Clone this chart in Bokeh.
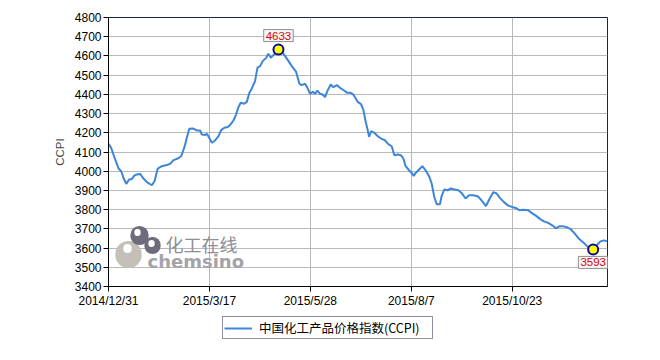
import numpy as np
from bokeh.plotting import figure
from bokeh.layouts import column
from bokeh.models import Range1d, FixedTicker, Legend, LegendItem, Label
from bokeh.embed import file_html
from bokeh.resources import INLINE

# trading-day index (x) and CCPI value (y)
day_index = [0.0, 1.3, 3.0, 5.0, 6.3, 7.4, 8.8, 10.2, 11.6, 12.9, 14.0, 15.7, 17.0, 19.0, 21.5, 22.8,
             24.4, 26.4, 28.9, 30.5, 32.2, 34.3, 36.0, 37.6, 38.8, 40.0, 42.1, 43.7, 45.4, 46.2, 47.9,
             48.7, 49.9, 51.2, 52.8, 54.5, 55.8, 57.4, 59.1, 60.2, 61.9, 63.2, 64.4, 65.5, 67.2, 68.5,
             69.8, 71.0, 72.6, 73.8, 75.1, 76.4, 78.1, 79.2, 80.4, 81.7, 83.4, 84.2, 85.8, 87.5, 89.2,
             90.8, 92.9, 94.6, 95.7, 97.4, 98.5, 99.9, 101.2, 102.3, 103.5, 104.8, 106.1, 107.3, 108.4,
             110.1, 111.4, 113.1, 114.7, 116.7, 118.3, 120.0, 121.3, 123.4, 125.1, 126.3, 127.4, 128.4,
             129.1, 130.1, 131.7, 133.4, 135.0, 137.0, 138.6, 140.3, 141.6, 143.3, 144.9, 146.1, 147.2,
             148.9, 150.2, 151.2, 152.2, 153.5, 155.5, 157.1, 158.8, 160.1, 161.4, 162.6, 164.2, 165.0,
             166.4, 168.0, 169.7, 171.3, 173.3, 174.9, 176.9, 178.6, 180.7, 182.9, 184.5, 187.0, 188.6,
             190.6, 192.3, 193.9, 195.9, 198.0, 200.0, 201.8, 203.5, 205.5, 207.9, 209.6, 211.7, 213.7,
             215.7, 217.8, 220.0, 221.6, 223.3, 225.3, 227.2, 228.9, 231.0, 233.2, 235.5, 237.6, 240.1,
             242.1, 243.7, 245.4, 247.2]
ccpi = [4143, 4122, 4070, 4014, 4000, 3966, 3934, 3957, 3960, 3978, 3983, 3986, 3966, 3943, 3927, 3948,
        4014, 4026, 4032, 4038, 4058, 4066, 4078, 4125, 4174, 4221, 4222, 4212, 4212, 4191, 4188,
        4195, 4174, 4148, 4160, 4183, 4214, 4226, 4230, 4240, 4264, 4295, 4334, 4356, 4351, 4361,
        4408, 4431, 4469, 4539, 4547, 4573, 4590, 4611, 4590, 4604, 4622, 4633, 4622, 4599, 4573,
        4547, 4518, 4455, 4448, 4455, 4434, 4403, 4413, 4403, 4420, 4403, 4399, 4386, 4417,
        4451, 4437, 4448, 4434, 4420, 4408, 4408, 4399, 4361, 4349, 4318, 4257, 4214,
        4179, 4208, 4200, 4182, 4170, 4161, 4141, 4130, 4083, 4087, 4083, 4066, 4026,
        4005, 3991, 3976, 3991, 4005, 4026, 4005, 3974, 3936, 3866, 3828, 3828, 3870,
        3905, 3901, 3910, 3905, 3901, 3887, 3858, 3875, 3875, 3870, 3852, 3818, 3853,
        3891, 3884, 3861, 3839, 3821, 3814, 3809, 3797, 3800, 3797, 3783, 3769, 3752,
        3739, 3731, 3717, 3703, 3713, 3713, 3708, 3699, 3675, 3647, 3626, 3605, 3593,
        3617, 3635, 3640, 3635]
tick_index = [0, 50, 100, 150, 200]
tick_labels = ["2014/12/31", "2015/3/17", "2015/5/28", "2015/8/7", "2015/10/23"]
series_name = "中国化工产品价格指数(CCPI)"

FONT = "Liberation Sans"
LINE_COLOR = "#3d85d8"

p = figure(width=648, height=310, output_backend="svg", toolbar_location=None,
           x_range=Range1d(0, 247.2), y_range=Range1d(3400, 4800),
           min_border_left=108, min_border_right=41, min_border_top=17, min_border_bottom=24,
           background_fill_color="white", border_fill_color="white")
p.outline_line_color = "#1c2448"
p.outline_line_width = 1

# axes
p.xaxis.ticker = FixedTicker(ticks=tick_index)
p.xaxis.major_label_overrides = {t: l for t, l in zip(tick_index, tick_labels)}
p.yaxis.ticker = FixedTicker(ticks=list(range(3400, 4801, 100)))
for ax in (p.xaxis[0], p.yaxis[0]):
    ax.axis_line_color = "black"
    ax.major_tick_line_color = "black"
    ax.major_tick_out = 5
    ax.major_tick_in = 0
    ax.minor_tick_line_color = None
    ax.major_label_text_font = FONT
    ax.major_label_text_font_size = "12px"
    ax.major_label_text_color = "black"
    ax.major_label_standoff = 2
p.yaxis.axis_label = "CCPI"
p.yaxis.axis_label_text_font = FONT
p.yaxis.axis_label_text_font_size = "11.5px"
p.yaxis.axis_label_text_font_style = "normal"
p.yaxis.axis_label_standoff = 6

p.grid.grid_line_color = "#b8b8b8"
p.grid.grid_line_width = 1

# watermark (screen units relative to plot frame)
def dot(x, y, r, color):
    p.add_layout(Label(x=x, y=y, x_units="screen", y_units="screen", text=" ",
                       text_font_size="1px", text_align="center", text_baseline="middle",
                       background_fill_color=color, padding=r, border_radius=r,
                       level="underlay"))

dot(20, 32, 13, "#c4c0b8")
dot(31, 51, 9, "#6e6c7c")
dot(44, 41, 8, "#6e6c7c")
dot(19, 38, 4, "white")
dot(29, 54, 3, "white")
dot(43, 43, 3, "white")
p.add_layout(Label(x=57, y=43, x_units="screen", y_units="screen", text="化工在线",
                   text_color="#8e8e96", text_font="Noto Sans CJK SC", text_font_size="18px",
                   text_baseline="middle", level="underlay"))
p.add_layout(Label(x=39, y=25, x_units="screen", y_units="screen", text="chemsino",
                   text_color="#a4a4a8", text_font="DejaVu Sans", text_font_size="18px",
                   text_font_style="bold", text_baseline="middle", level="underlay"))

# series
r = p.line(day_index, ccpi, line_color=LINE_COLOR, line_width=2)

arr = np.array(ccpi)
imax, imin = int(arr.argmax()), int(arr.argmin())
p.scatter([day_index[imax], day_index[imin]], [ccpi[imax], ccpi[imin]], size=10,
          fill_color="#ffff00", line_color="#0a0a9a", line_width=2)

p.add_layout(Label(x=day_index[imax], y=ccpi[imax], text=str(ccpi[imax]), y_offset=8,
                   text_align="center", text_baseline="bottom", text_color="#dd0000",
                   text_font=FONT, text_font_size="11.5px", border_line_color="#909090",
                   background_fill_color="#f6f6f6", padding=2))
p.add_layout(Label(x=day_index[imin], y=ccpi[imin], text=str(ccpi[imin]), y_offset=-7,
                   text_align="center", text_baseline="top", text_color="#dd0000",
                   text_font=FONT, text_font_size="11.5px", border_line_color="#909090",
                   background_fill_color="#f6f6f6", padding=2))

# legend strip below the chart
p2 = figure(width=648, height=42, output_backend="svg", toolbar_location=None,
            x_range=Range1d(0, 1), y_range=Range1d(0, 1),
            min_border_left=0, min_border_right=0, min_border_top=0, min_border_bottom=0,
            background_fill_color="white", border_fill_color="white")
p2.axis.visible = False
p2.grid.visible = False
p2.outline_line_color = None
proxy = p2.line([np.nan], [np.nan], line_color=LINE_COLOR, line_width=2)

legend = Legend(items=[LegendItem(label=series_name, renderers=[proxy])],
                location=(114, 13), orientation="horizontal",
                border_line_color="#1c2448", border_line_width=1,
                background_fill_color="white", padding=1, margin=0,
                glyph_width=28, glyph_height=12, label_height=12, label_width=172,
                label_text_font="Noto Sans CJK SC", label_text_font_size="12.5px",
                label_text_color="black", label_standoff=7)
p2.add_layout(legend)

open("out.html", "w").write(file_html(column(p, p2, spacing=0), INLINE))
